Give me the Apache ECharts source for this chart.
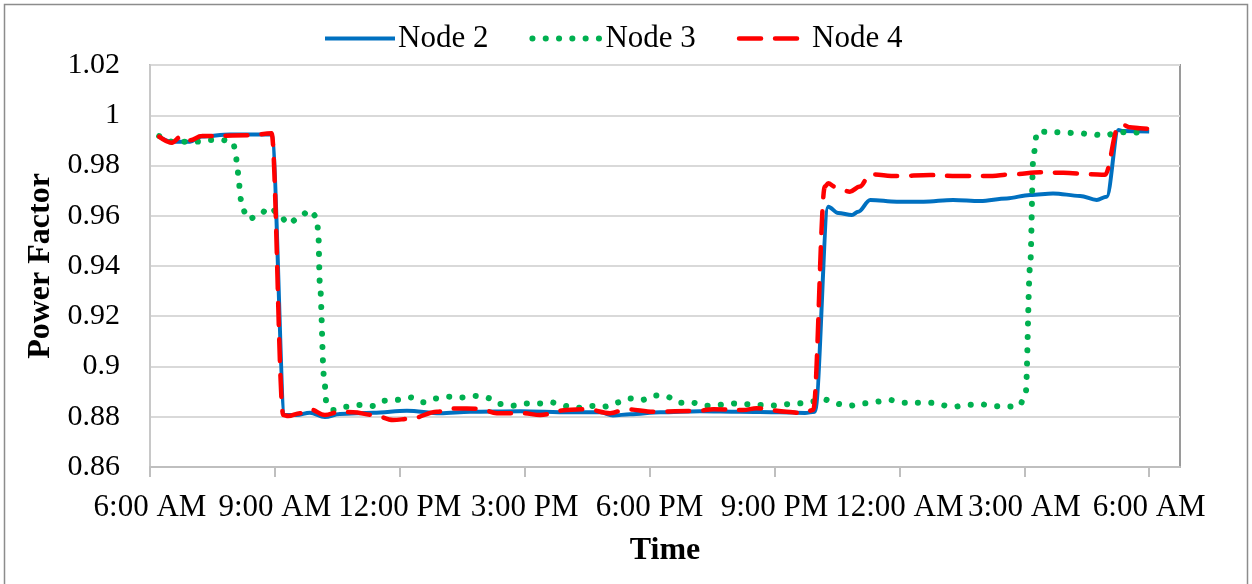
<!DOCTYPE html>
<html>
<head>
<meta charset="utf-8">
<script src="https://cdn.jsdelivr.net/npm/echarts@6/dist/echarts.min.js"></script>
<style>
  html, body { margin: 0; padding: 0; background: #fff; }
  #chart { width: 1252px; height: 584px; }
</style>
</head>
<body>
<div id="chart"></div>
<script>
// Time is given in hours from midnight of the first day (30 = 6:00 AM next day).
const node2Times = [6.22, 6.52, 6.96, 7.24, 7.92, 8.92, 9.24, 9.52, 9.84, 10.20, 10.56, 11.36, 12.17, 12.97,
  13.69, 14.89, 16.09, 16.81, 17.12, 17.53, 18.25, 19.21, 20.17, 21.13, 21.73, 21.97,
  22.29, 22.53, 22.86, 23.01, 23.30, 23.94, 24.58, 25.29, 25.94, 26.58, 27.14, 27.69,
  28.34, 28.74, 28.98, 29.26, 29.38, 30.0];
const node2Values = [0.9915, 0.9895, 0.9895, 0.9915, 0.9923, 0.9923, 0.8807, 0.8807, 0.8816, 0.8799, 0.8811, 0.8816, 0.8824, 0.8814,
  0.8820, 0.8822, 0.8818, 0.8818, 0.8805, 0.8810, 0.8818, 0.8822, 0.8820, 0.8818, 0.8815, 0.8820,
  0.9636, 0.9611, 0.9603, 0.9616, 0.9663, 0.9656, 0.9656, 0.9663, 0.9659, 0.9669, 0.9683, 0.9689,
  0.9679, 0.9663, 0.9676, 0.9941, 0.9937, 0.9935];

const node3Times = [6.22, 6.52, 6.84, 7.12, 7.44, 7.76, 8.00, 8.06, 8.10, 8.14, 8.16, 8.22, 8.36, 8.62, 8.87,
  9.12, 9.31, 9.59, 9.84, 10.00, 10.04, 10.08, 10.18, 10.24, 10.40, 10.72, 11.04, 11.34, 11.60,
  11.92, 12.25, 12.55, 12.85, 13.17, 13.49, 13.81, 14.10, 14.38, 14.70, 15.01, 15.33, 15.65,
  15.94, 16.26, 16.59, 16.91, 17.19, 17.49, 17.81, 18.11, 18.41, 18.71, 19.02, 19.34, 19.65,
  19.97, 20.29, 20.61, 20.93, 21.25, 21.57, 21.89, 22.19, 22.49, 22.81, 23.13, 23.44, 23.76,
  24.07, 24.69, 25.31, 25.63, 25.94, 26.24, 26.56, 26.88, 27.03, 27.14, 27.22, 27.31, 27.86,
  28.34, 28.62, 28.94, 29.25, 29.56, 29.88];
const node3Values = [0.9917, 0.9895, 0.9895, 0.9895, 0.9901, 0.9901, 0.9891, 0.9842, 0.9785, 0.9732, 0.9680, 0.9627, 0.9586, 0.9603, 0.9634,
  0.9603, 0.9567, 0.9594, 0.9623, 0.9596, 0.9543, 0.9331, 0.8960, 0.8853, 0.8827, 0.8840, 0.8847, 0.8843, 0.8864,
  0.8867, 0.8877, 0.8858, 0.8873, 0.8880, 0.8877, 0.8883, 0.8875, 0.8851, 0.8844, 0.8853, 0.8853, 0.8857,
  0.8843, 0.8835, 0.8843, 0.8840, 0.8856, 0.8873, 0.8867, 0.8885, 0.8880, 0.8856, 0.8856, 0.8844, 0.8847,
  0.8853, 0.8850, 0.8847, 0.8844, 0.8850, 0.8853, 0.8860, 0.8869, 0.8851, 0.8844, 0.8853, 0.8860, 0.8867,
  0.8856, 0.8856, 0.8840, 0.8847, 0.8850, 0.8843, 0.8840, 0.8844, 0.8887, 0.9400, 0.9842, 0.9935, 0.9932,
  0.9928, 0.9924, 0.9919, 0.9932, 0.9932, 0.9928];

const node4Times = [6.22, 6.52, 6.76, 6.96, 7.24, 8.40, 8.92, 9.20, 9.32, 9.60, 9.84, 10.20, 10.56, 10.88, 11.36,
  11.84, 12.25, 12.89, 13.29, 13.93, 14.33, 14.96, 15.37, 16.01, 16.49, 17.05, 17.45, 18.09,
  19.13, 19.53, 20.25, 20.57, 21.29, 21.69, 21.93, 22.21, 22.29, 22.45, 22.81, 23.05, 23.30,
  23.94, 24.74, 25.38, 26.10, 26.74, 27.38, 27.94, 28.58, 28.94, 29.26, 29.38, 29.54, 29.78, 30.0];
const node4Values = [0.9915, 0.9891, 0.9917, 0.9900, 0.9917, 0.9920, 0.9928, 0.8807, 0.8803, 0.8814, 0.8830, 0.8807, 0.8820, 0.8818, 0.8807,
  0.8787, 0.8792, 0.8820, 0.8833, 0.8832, 0.8814, 0.8814, 0.8807, 0.8827, 0.8830, 0.8814, 0.8830, 0.8820,
  0.8823, 0.8830, 0.8827, 0.8834, 0.8820, 0.8814, 0.8827, 0.9716, 0.9729, 0.9716, 0.9696, 0.9716, 0.9765,
  0.9758, 0.9762, 0.9758, 0.9758, 0.9765, 0.9773, 0.9771, 0.9765, 0.9763, 0.9954, 0.9961, 0.9952, 0.9948, 0.9946];

const tickHours = [6, 9, 12, 15, 18, 21, 24, 27, 30];
const tickLabels = ['6:00 AM', '9:00 AM', '12:00 PM', '3:00 PM', '6:00 PM', '9:00 PM', '12:00 AM', '3:00 AM', '6:00 AM'];

const zip = (t, v) => t.map((h, i) => [h, v[i]]);
const FONT = '"Liberation Serif", "Times New Roman", serif';

const chart = echarts.init(document.getElementById('chart'), null, { renderer: 'canvas' });
chart.setOption({
  animation: false,
  backgroundColor: '#fff',
  graphic: [{
    type: 'rect', silent: true, z: -1,
    shape: { x: 4.5, y: 4.5, width: 1243, height: 600 },
    style: { fill: 'none', stroke: '#8c8c8c', lineWidth: 1.5 }
  }],
  legend: {
    top: 18, left: 318,
    itemWidth: 70, itemHeight: 14, itemGap: 41,
    itemStyle: { opacity: 0 },
    lineStyle: { width: 'inherit' },
    textStyle: { fontFamily: FONT, fontSize: 31, color: '#000', padding: [0, 0, 0, -2] },
    data: ['Node 2', 'Node 3', 'Node 4']
  },
  grid: {
    left: 150, right: 72, top: 65, bottom: 117,
    show: true, borderColor: '#9a9a9a', borderWidth: 2, backgroundColor: '#fff'
  },
  xAxis: {
    type: 'value', min: 6, max: 30.74,
    name: 'Time', nameLocation: 'middle', nameGap: 68,
    nameTextStyle: { fontFamily: FONT, fontSize: 32, fontWeight: 'bold', color: '#000' },
    axisLine: { show: true, lineStyle: { color: '#bfbfbf', width: 2 } },
    axisTick: { show: true, length: 10, customValues: tickHours, lineStyle: { color: '#bfbfbf', width: 2 } },
    axisLabel: {
      customValues: tickHours, margin: 25,
      fontFamily: FONT, fontSize: 31, color: '#000',
      formatter: v => tickLabels[tickHours.indexOf(Math.round(v))] || ''
    },
    splitLine: { show: false }
  },
  yAxis: {
    type: 'value', min: 0.86, max: 1.02, interval: 0.02,
    name: 'Power Factor', nameLocation: 'middle', nameGap: 91,
    nameTextStyle: { fontFamily: FONT, fontSize: 32, fontWeight: 'bold', color: '#000' },
    axisLine: { show: true, lineStyle: { color: '#c8c8c8', width: 2 } },
    axisTick: { show: false },
    axisLabel: {
      margin: 30, fontFamily: FONT, fontSize: 30, color: '#000',
      formatter: v => String(+v.toFixed(2))
    },
    splitLine: { show: true, lineStyle: { color: '#d9d9d9', width: 2 } }
  },
  series: [
    {
      name: 'Node 2', type: 'line', data: zip(node2Times, node2Values),
      symbol: 'none', smooth: 0.35, smoothMonotone: 'x', z: 2,
      color: '#0070C0',
      lineStyle: { color: '#0070C0', width: 4 }
    },
    {
      name: 'Node 3', type: 'line', data: zip(node3Times, node3Values),
      symbol: 'none', smooth: 0.35, smoothMonotone: 'x', z: 3,
      color: '#00B050',
      lineStyle: { color: '#00B050', width: 6, type: [0.1, 13.2], cap: 'round' }
    },
    {
      name: 'Node 4', type: 'line', data: zip(node4Times, node4Values),
      symbol: 'none', smooth: 0.35, smoothMonotone: 'x', z: 4,
      color: '#FF0000',
      lineStyle: { color: '#FF0000', width: 4.5, type: [22, 14], cap: 'round' }
    }
  ]
});
</script>
</body>
</html>
